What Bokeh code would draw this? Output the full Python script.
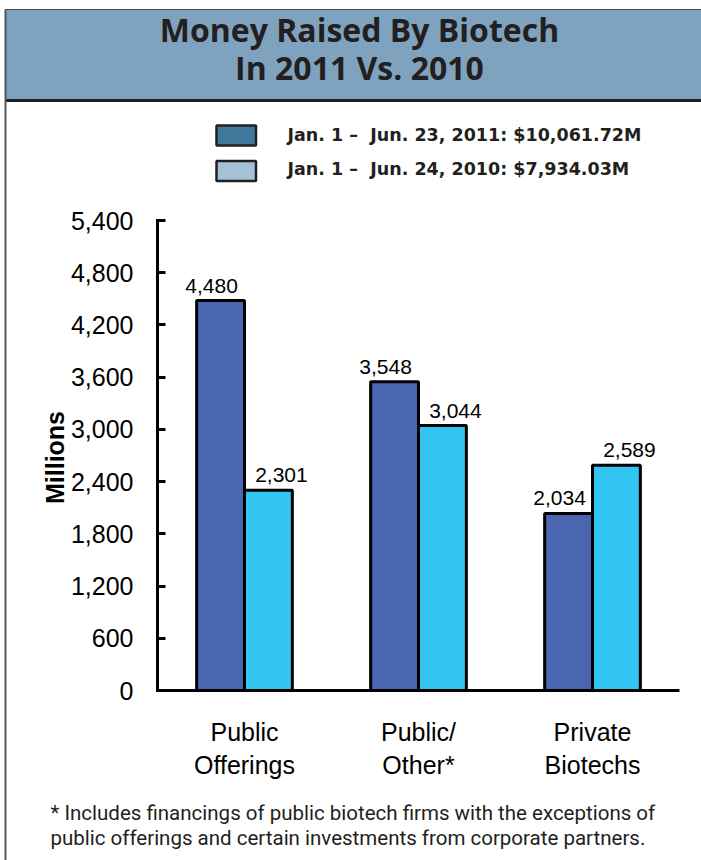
import math
from bokeh.plotting import figure
from bokeh.models import (Range1d, Label, LabelSet, BoxAnnotation, LinearAxis,
                          ColumnDataSource, FixedTicker, NumeralTickFormatter)
from bokeh.embed import file_html
from bokeh.resources import INLINE
from bokeh.core.properties import value

# ---------------- data ----------------
categories = ["Public\nOfferings", "Public/\nOther*", "Private\nBiotechs"]
values_2011 = [4480, 3548, 2034]
values_2010 = [2301, 3044, 2589]
y_ticks = [0, 600, 1200, 1800, 2400, 3000, 3600, 4200, 4800, 5400]
legend_labels = ["Jan. 1 \u2013\u00a0 Jun. 23, 2011: $10,061.72M",
                 "Jan. 1 \u2013\u00a0 Jun. 24, 2010: $7,934.03M"]
title_lines = ["Money Raised By Biotech", "In 2011 Vs. 2010"]
footnote_lines = ["* Includes financings of public biotech firms with the exceptions of",
                  "public offerings and certain investments from corporate partners."]
y_label = "Millions"
y_max = 5400

# ---------------- styles ----------------
C2011 = "#4A66B0"
C2010 = "#33C5F1"
SW2011 = "#3F7A9C"
SW2010 = "#A3C2D6"
BANNER = "#7FA3BF"
INK = "#231F20"

W, H = 701, 860
FL, FR, FT, FB = 157, 679, 220, 690      # plot area edges on the page (px)
n = len(categories)
KX = (FR - FL) / n                        # px per category
KY = (FB - FT) / y_max                    # px per unit


def X(px):
    return (px - FL) / KX


def Y(py):
    return (FB - py) / KY


def baseline(py, fs):
    # Label draws its alphabetic baseline ~0.4em below the anchor
    return Y(py - 0.4 * fs)


bw = 0.275
centers = [i + 0.5 for i in range(n)]
src = ColumnDataSource(dict(
    x2011=[c - bw / 2 for c in centers],
    x2010=[c + bw / 2 for c in centers],
    v2011=values_2011,
    v2010=values_2010,
    t2011=[f"{v:,}" for v in values_2011],
    t2010=[f"{v:,}" for v in values_2010],
))

p = figure(width=W, height=H, x_range=Range1d(X(0), X(W)), y_range=Range1d(Y(H), Y(0)),
           x_axis_type=None, y_axis_type=None, output_backend="svg",
           toolbar_location=None, min_border=0, min_border_left=0, min_border_right=0,
           min_border_top=0, min_border_bottom=0)
p.styles = {"position": "absolute", "left": "0px", "top": "0px"}
p.title.visible = False
p.outline_line_color = None
p.xgrid.grid_line_color = None
p.ygrid.grid_line_color = None
p.background_fill_color = "white"
p.border_fill_color = "white"

# ---------------- bars ----------------
p.vbar(x="x2011", top="v2011", width=bw, source=src,
       fill_color=C2011, line_color="black", line_width=3)
p.vbar(x="x2010", top="v2010", width=bw, source=src,
       fill_color=C2010, line_color="black", line_width=3)

for xc, col, txt, dx in (("x2011", "v2011", "t2011", -9), ("x2010", "v2010", "t2010", 13)):
    p.add_layout(LabelSet(x=xc, y=col, text=txt, source=src, level="overlay",
                          x_offset=dx, y_offset=8, text_align="center",
                          text_baseline="alphabetic",
                          text_font=value("Liberation Sans"), text_font_size="21px",
                          text_color="black"))

# ---------------- axes ----------------
ya = LinearAxis(fixed_location=0, bounds=(0, y_max), ticker=FixedTicker(ticks=y_ticks),
                formatter=NumeralTickFormatter(format="0,0"))
ya.axis_line_width = 3
ya.axis_line_color = "black"
ya.axis_line_cap = "square"
ya.major_tick_in = 8
ya.major_tick_out = 0
ya.major_tick_line_width = 3
ya.minor_tick_line_color = None
ya.major_label_text_font = "Liberation Sans"
ya.major_label_text_font_size = "25px"
ya.major_label_text_color = "black"
ya.major_label_standoff = 24
p.add_layout(ya, "left")

xa = LinearAxis(fixed_location=0, bounds=(0, n), ticker=FixedTicker(ticks=centers))
xa.major_label_overrides = {c: lab for c, lab in zip(centers, categories)}
xa.axis_line_width = 3
xa.axis_line_color = "black"
xa.major_tick_line_color = None
xa.major_tick_in = 0
xa.major_tick_out = 0
xa.minor_tick_line_color = None
xa.major_label_text_font = "Liberation Sans"
xa.major_label_text_font_size = "25px"
xa.major_label_text_color = "black"
xa.major_label_standoff = 27
p.add_layout(xa, "below")

p.add_layout(Label(x=X(54), y=Y(457), text=y_label, angle=math.pi / 2,
                   text_align="center", text_baseline="middle",
                   text_font="Liberation Sans", text_font_style="bold",
                   text_font_size="25px", text_color="black"))


# ---------------- decorations ----------------
def box(l, r, t, b, fill, line=None, lw=0):
    p.add_layout(BoxAnnotation(left=X(l), right=X(r), top=Y(t), bottom=Y(b),
                               fill_color=fill, fill_alpha=1, line_color=line,
                               line_width=lw, line_alpha=1, editable=False))


# banner and frame
box(5, 720, 9, 100, BANNER, "#4A4A4A", 1)
box(5, 720, 98.5, 101.5, "#231F20")
box(4, 6, 9, 870, "#555555")

for i, t in enumerate(title_lines):
    p.add_layout(Label(x=X(359), y=baseline(41.7 + 38.3 * i, 32), text=t,
                       text_align="center", text_baseline="alphabetic",
                       text_font="Open Sans", text_font_style="bold",
                       text_font_size="32px", text_color=INK))

# legend
for i, (lab, c) in enumerate(zip(legend_labels, (SW2011, SW2010))):
    top = 125 + 35.5 * i
    box(216, 255.5, top, top + 20, c, "#231F20", 2.5)
    p.add_layout(Label(x=X(287), y=baseline(141 + 34 * i, 17.5), text=lab,
                       text_align="left", text_baseline="alphabetic",
                       text_font="DejaVu Sans", text_font_style="bold",
                       text_font_size="17.5px", text_color=INK))

# footnote
for i, t in enumerate(footnote_lines):
    p.add_layout(Label(x=X(50), y=baseline(820.7 + 25.3 * i, 20.5), text=t,
                       text_align="left", text_baseline="alphabetic",
                       text_font="Roboto", text_font_size="20.5px", text_color=INK))

open("out.html", "w").write(file_html(p, INLINE))
